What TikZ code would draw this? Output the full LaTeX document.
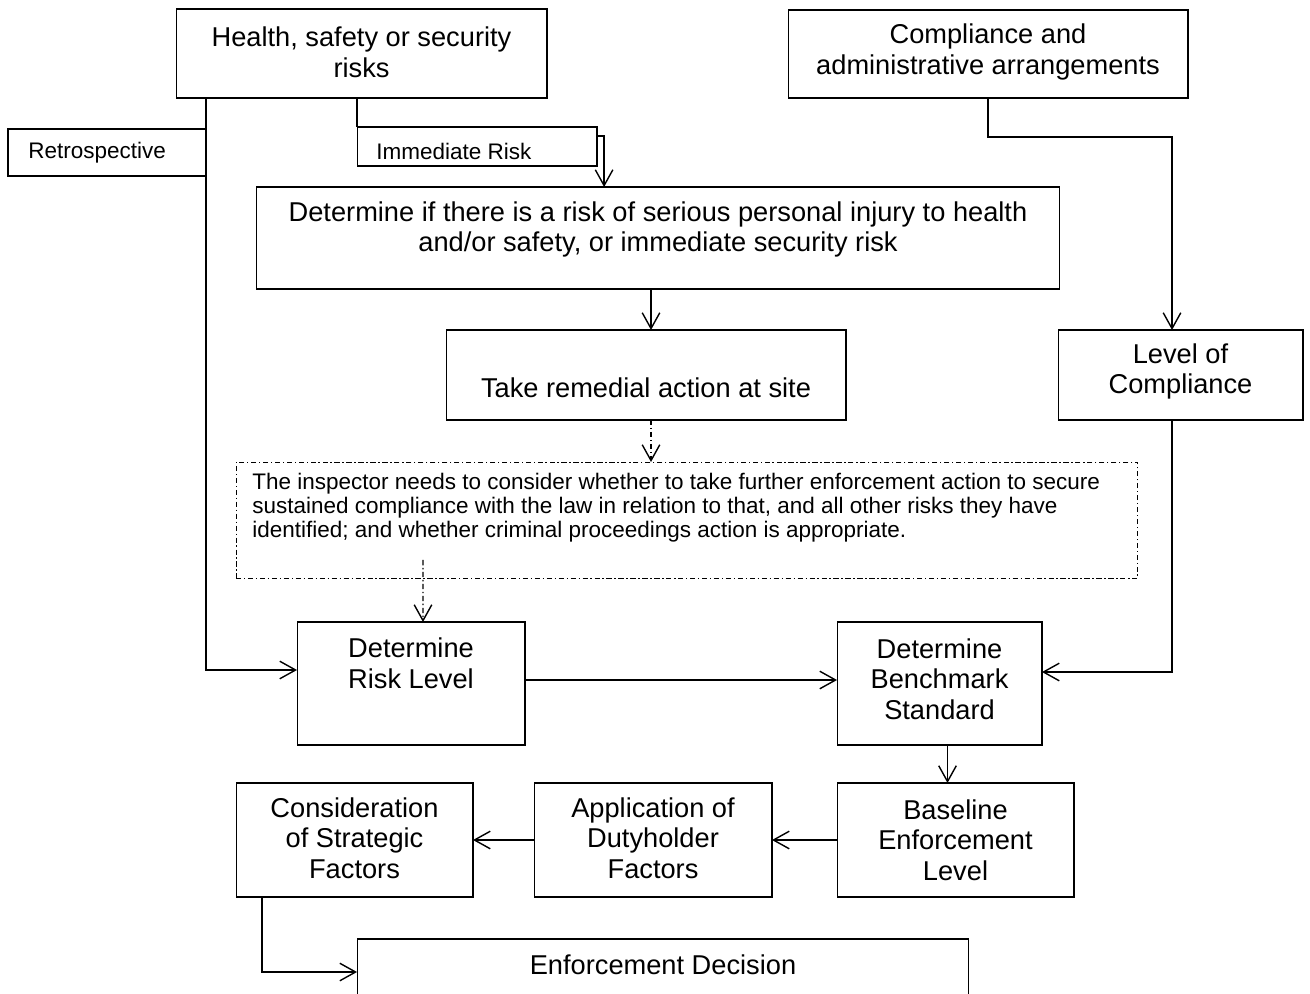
\documentclass[tikz,border=0pt]{standalone}
\usepackage{fontspec}
\setmainfont{Liberation Sans}
\usetikzlibrary{arrows.meta,calc}

\begin{document}
\begin{tikzpicture}[x=0.02cm, y=-0.02cm,
    box/.style={draw, rectangle, inner sep=0pt, outer sep=0pt, line width=0.6pt},
    big/.style={align=center, font=\fontsize{15.5}{17.4}\selectfont, inner sep=0pt},
    small/.style={align=left, font=\fontsize{12.8}{13.6}\selectfont, inner sep=0pt},
    arr/.style={line width=0.8pt, -{Straight Barb[length=9pt,width=10pt]}},
    dashdot/.style={dash pattern=on 3pt off 1.5pt on 0.8pt off 1.5pt}]
        \useasboundingbox (0,0) rectangle (1310,993);

        % boxes
        \node[box, minimum width=7.42cm, minimum height=1.78cm] (health) at (361.5,53.5) {};
        \node[box, minimum width=8cm, minimum height=1.76cm] (compliance) at (988,54) {};
        \node[box, minimum width=3.96cm, minimum height=0.94cm] (retro) at (107,152.5) {};
        \node[box, minimum width=4.8cm, minimum height=0.78cm] (immediate) at (477,146.5) {};
        \node[box, minimum width=16.08cm, minimum height=2.04cm] (determine) at (658,238) {};
        \node[box, minimum width=8cm, minimum height=1.8cm] (remedial) at (646,375) {};
        \node[box, minimum width=4.9cm, minimum height=1.8cm] (level) at (1180.5,375) {};
        \node[box, dashdot, line width=0.5pt, minimum width=18.04cm, minimum height=2.32cm] (inspector) at (687,520) {};
        \node[box, minimum width=4.56cm, minimum height=2.46cm] (risk) at (411,683.5) {};
        \node[box, minimum width=4.1cm, minimum height=2.46cm] (benchmark) at (939.5,683.5) {};
        \node[box, minimum width=4.74cm, minimum height=2.28cm] (baseline) at (955.5,840) {};
        \node[box, minimum width=4.76cm, minimum height=2.28cm] (dutyholder) at (653,840) {};
        \node[box, minimum width=4.74cm, minimum height=2.28cm] (strategic) at (354.5,840) {};
        \node[box, minimum width=12.24cm, minimum height=1.42cm] (enforcement) at (663,974.5) {};

        % texts
        \node[big] (health-t) at (361.5,52) {Health, safety or security\\risks};
        \node[big] (compliance-t) at (988,52) {Compliance and\\administrative arrangements};
        \node[small, anchor=west] (retro-t) at (28,153) {Retrospective};
        \node[small, anchor=west] (immediate-t) at (376,151) {Immediate Risk};
        \node[big] (determine-t) at (658,229.5) {Determine if there is a risk of serious personal injury to health\\and/or safety, or immediate security risk};
        \node[big] (remedial-t) at (646,388) {Take remedial action at site};
        \node[big] (level-t) at (1180.5,371.5) {Level of\\Compliance};
        \node[small, anchor=west] (inspector-t) at (252,508) {The inspector needs to consider whether to take further enforcement action to secure\\sustained compliance with the law in relation to that, and all other risks they have\\identified; and whether criminal proceedings action is appropriate.};
        \node[big] (risk-t) at (411,663.5) {Determine\\Risk Level};
        \node[big] (benchmark-t) at (939.5,679) {Determine\\Benchmark\\Standard};
        \node[big] (baseline-t) at (955.5,840) {Baseline\\Enforcement\\Level};
        \node[big] (dutyholder-t) at (653,838) {Application of\\Dutyholder\\Factors};
        \node[big] (strategic-t) at (354.5,838) {Consideration\\of Strategic\\Factors};
        \node[big] (enforcement-t) at (663,965) {Enforcement Decision};

        \coordinate (dstart) at ($(inspector.south -| risk.north)+(12,-18)$);

        % connectors
        \draw[arr] (health.south -| retro.east) |- ($(risk.west)+(0,-13.5)$);
        \draw[line width=0.8pt] (health.south -| immediate.north west) -- (immediate.north west);
        \draw[arr] ($(immediate.north east)+(0,9)$) -| ($(determine.north west)+(348,0)$);
        \draw[arr] ([xshift=0.1cm]determine.south -| remedial.north) -- ([xshift=0.1cm]remedial.north);
        \draw[arr, dashdot] ([xshift=0.1cm]remedial.south) -- ([xshift=0.1cm]inspector.north -| remedial.south);
        \draw[arr, dashdot] (dstart) -- ([xshift=0.24cm]risk.north);
        \draw[arr] (compliance.south) -- ++(0,39) -| ($(level.north)+(-8.5,0)$);
        \draw[arr] ($(level.south)+(-8.5,0)$) |- ($(benchmark.east)+(0,-11.5)$);
        \draw[arr] ($(risk.east)+(0,-3.5)$) -- ($(benchmark.west)+(0,-3.5)$);
        \draw[arr] ($(benchmark.south)+(8,0)$) -- ++(0,38);
        \draw[arr] (baseline.west) -- (dutyholder.east);
        \draw[arr] (dutyholder.west) -- (strategic.east);
        \draw[arr] ($(strategic.south west)+(26,0)$) |- ($(enforcement.west)+(0,-2.5)$);
\end{tikzpicture}
\end{document}
